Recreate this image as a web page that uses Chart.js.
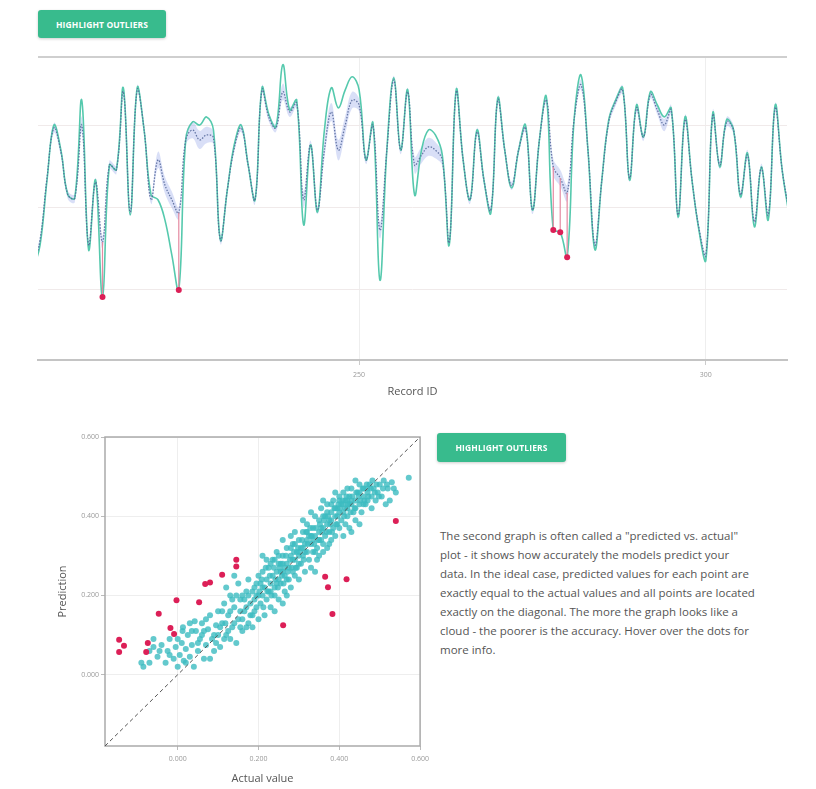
<!DOCTYPE html>
<html>
<head>
<meta charset="utf-8">
<script src="https://cdn.jsdelivr.net/npm/chart.js@4.4.1/dist/chart.umd.min.js"></script>
<style>
body { margin: 0; background: #fff; font-family: "Open Sans", sans-serif; width: 816px; height: 789px; position: relative; overflow: hidden; }
.btn { position: absolute; background: #38bb8d; color: #fff; font-size: 8.5px; font-weight: 700; letter-spacing: .1px; border-radius: 3px; box-shadow: 0 1px 3px rgba(0,0,0,.2); display: flex; align-items: center; justify-content: center; }
#btn1 { left: 38px; top: 10px; width: 128px; height: 28px; }
#btn2 { left: 437px; top: 433px; width: 129px; height: 29px; }
#topWrap { position: absolute; left: 0; top: 45px; width: 816px; height: 357px; }
#scWrap { position: absolute; left: 40px; top: 425px; width: 394px; height: 364px; }
#desc { position: absolute; left: 440px; top: 526px; font-size: 11.5px; line-height: 19px; color: #555; white-space: nowrap; }
</style>
</head>
<body>
<div class="btn" id="btn1">HIGHLIGHT OUTLIERS</div>
<div id="topWrap"><canvas id="records-chart"></canvas></div>
<div id="scWrap"><canvas id="scatter-chart"></canvas></div>
<div class="btn" id="btn2">HIGHLIGHT OUTLIERS</div>
<div id="desc">
The second graph is often called a "predicted vs. actual"<br>
plot - it shows how accurately the models predict your<br>
data. In the ideal case, predicted values for each point are<br>
exactly equal to the actual values and all points are located<br>
exactly on the diagonal. The more the graph looks like a<br>
cloud - the poorer is the accuracy. Hover over the dots for<br>
more info.
</div>
<script>
// dados do primeiro gráfico (por registro)
const recordIds = [
	203, 204, 205, 206, 207, 208, 209, 210, 211, 212,
	213, 214, 215, 216, 217, 218, 219, 220, 221, 222,
	223, 224, 225, 226, 227, 228, 229, 230, 231, 232,
	233, 234, 235, 236, 237, 238, 239, 240, 241, 242,
	243, 244, 245, 246, 247, 248, 249, 250, 251, 252,
	253, 254, 255, 256, 257, 258, 259, 260, 261, 262,
	263, 264, 265, 266, 267, 268, 269, 270, 271, 272,
	273, 274, 275, 276, 277, 278, 279, 280, 281, 282,
	283, 284, 285, 286, 287, 288, 289, 290, 291, 292,
	293, 294, 295, 296, 297, 298, 299, 300, 301, 302,
	303, 304, 305, 306, 307, 308, 309, 310, 311, 312
];

const actualValues = [
	0.049, 0.110, 0.268, 0.402, 0.341, 0.232, 0.224, 0.463, 0.098, 0.268,
	-0.017, 0.305, 0.293, 0.493, 0.183, 0.493, 0.390, 0.232, 0.220, 0.171,
	0.085, 0.000, 0.366, 0.410, 0.402, 0.422, 0.390, 0.122, 0.244, 0.354,
	0.402, 0.305, 0.220, 0.493, 0.427, 0.398, 0.549, 0.439, 0.463, 0.159,
	0.354, 0.190, 0.390, 0.493, 0.444, 0.488, 0.520, 0.488, 0.317, 0.407,
	0.024, 0.341, 0.517, 0.341, 0.488, 0.232, 0.341, 0.390, 0.378, 0.329,
	0.110, 0.488, 0.317, 0.220, 0.390, 0.268, 0.188, 0.468, 0.341, 0.249,
	0.341, 0.402, 0.195, 0.366, 0.471, 0.146, 0.141, 0.080, 0.415, 0.524,
	0.341, 0.098, 0.268, 0.415, 0.463, 0.493, 0.268, 0.451, 0.373, 0.483,
	0.451, 0.422, 0.444, 0.178, 0.422, 0.268, 0.146, 0.073, 0.432, 0.300,
	0.415, 0.390, 0.227, 0.334, 0.154, 0.300, 0.171, 0.451, 0.293, 0.183
];

const predictedValues = [
	0.054, 0.122, 0.273, 0.395, 0.337, 0.232, 0.224, 0.402, 0.110, 0.263,
	0.117, 0.305, 0.293, 0.483, 0.190, 0.488, 0.390, 0.220, 0.317, 0.256,
	0.220, 0.188, 0.366, 0.390, 0.366, 0.378, 0.371, 0.122, 0.244, 0.346,
	0.395, 0.305, 0.220, 0.488, 0.420, 0.395, 0.483, 0.434, 0.456, 0.220,
	0.354, 0.195, 0.341, 0.434, 0.341, 0.402, 0.463, 0.451, 0.317, 0.402,
	0.146, 0.341, 0.512, 0.341, 0.483, 0.305, 0.329, 0.349, 0.341, 0.317,
	0.117, 0.483, 0.317, 0.220, 0.385, 0.268, 0.195, 0.463, 0.341, 0.254,
	0.341, 0.395, 0.195, 0.366, 0.463, 0.300, 0.273, 0.237, 0.415, 0.500,
	0.341, 0.110, 0.268, 0.410, 0.459, 0.488, 0.273, 0.444, 0.373, 0.476,
	0.439, 0.402, 0.439, 0.183, 0.415, 0.268, 0.151, 0.085, 0.427, 0.305,
	0.410, 0.390, 0.232, 0.329, 0.166, 0.298, 0.183, 0.444, 0.293, 0.190
];

const predictedError = [
	0.010, 0.010, 0.010, 0.012, 0.010, 0.010, 0.010, 0.020, 0.010, 0.010,
	0.015, 0.010, 0.010, 0.012, 0.010, 0.010, 0.010, 0.010, 0.020, 0.020,
	0.020, 0.015, 0.012, 0.020, 0.022, 0.020, 0.015, 0.010, 0.010, 0.010,
	0.010, 0.010, 0.010, 0.010, 0.010, 0.010, 0.020, 0.012, 0.010, 0.020,
	0.010, 0.010, 0.020, 0.022, 0.025, 0.022, 0.020, 0.015, 0.010, 0.010,
	0.020, 0.010, 0.010, 0.010, 0.010, 0.020, 0.020, 0.022, 0.020, 0.015,
	0.010, 0.010, 0.010, 0.010, 0.010, 0.010, 0.010, 0.010, 0.010, 0.010,
	0.010, 0.010, 0.010, 0.010, 0.010, 0.020, 0.020, 0.020, 0.010, 0.012,
	0.010, 0.010, 0.010, 0.010, 0.010, 0.010, 0.010, 0.012, 0.010, 0.010,
	0.012, 0.015, 0.012, 0.010, 0.012, 0.010, 0.010, 0.010, 0.012, 0.010,
	0.012, 0.010, 0.010, 0.012, 0.010, 0.010, 0.010, 0.012, 0.010, 0.010
];

const outlierIds = [213, 224, 278, 279, 280];
const recordTicks = [250, 300];
const recordGrid = [0, 0.2, 0.4];

// dados do gráfico "predicted vs. actual": [actual, prediction]
const cloudPoints = [
	[-0.09, 0.03], [-0.085, 0.02], [-0.07, 0.06], [-0.06, 0.07], [-0.05, 0.045], [-0.04, 0.075],
	[-0.03, 0.03], [-0.025, 0.06], [-0.02, 0.09], [-0.01, 0.04], [-0.005, 0.07], [-0.06, 0.09],
	[-0.07, 0.03], [-0.045, 0.06], [-0.02, 0.05], [0.0, 0.09], [0.02, 0.03], [0.035, 0.11],
	[0.05, 0.08], [0.065, 0.11], [0.07, 0.14], [0.09, 0.1], [0.095, 0.08], [0.042, 0.135], [0.013, 0.12],
	[0.0, 0.02], [0.005, 0.05], [0.01, 0.08], [0.015, 0.035], [0.02, 0.065], [0.025, 0.1],
	[0.03, 0.045], [0.035, 0.075], [0.04, 0.02], [0.045, 0.11], [0.05, 0.06], [0.055, 0.09],
	[0.06, 0.13], [0.065, 0.04], [0.07, 0.075], [0.075, 0.115], [0.08, 0.15], [0.085, 0.09],
	[0.09, 0.06], [0.095, 0.125], [0.1, 0.1], [0.1, 0.16], [0.012, 0.11], [0.03, 0.13],
	[0.06, 0.1], [0.08, 0.04],
	[0.105, 0.07], [0.11, 0.13], [0.115, 0.18], [0.12, 0.1], [0.125, 0.15], [0.13, 0.2],
	[0.135, 0.12], [0.14, 0.17], [0.145, 0.08], [0.15, 0.14], [0.155, 0.19], [0.16, 0.11],
	[0.165, 0.16], [0.17, 0.21], [0.175, 0.13], [0.18, 0.18], [0.185, 0.15], [0.19, 0.22],
	[0.195, 0.17], [0.2, 0.2], [0.11, 0.16], [0.13, 0.09], [0.15, 0.23], [0.16, 0.2],
	[0.175, 0.24], [0.185, 0.12], [0.19, 0.19], [0.2, 0.14], [0.2, 0.25], [0.12, 0.22], [0.14, 0.25],
	[0.105, 0.12], [0.115, 0.09], [0.125, 0.11], [0.13, 0.16], [0.14, 0.13], [0.145, 0.2],
	[0.155, 0.16], [0.16, 0.14], [0.165, 0.19], [0.17, 0.17], [0.175, 0.2], [0.18, 0.15],
	[0.185, 0.21], [0.19, 0.16], [0.195, 0.2], [0.17, 0.12], [0.155, 0.12], [0.135, 0.19],
	[0.118, 0.13], [0.195, 0.23],
	[0.205, 0.18], [0.205, 0.23], [0.21, 0.2], [0.21, 0.26], [0.215, 0.15], [0.215, 0.22],
	[0.22, 0.24], [0.22, 0.19], [0.225, 0.27], [0.225, 0.21], [0.23, 0.17], [0.23, 0.23],
	[0.235, 0.25], [0.235, 0.29], [0.24, 0.2], [0.24, 0.22], [0.245, 0.26], [0.245, 0.31],
	[0.25, 0.24], [0.25, 0.19], [0.255, 0.28], [0.255, 0.23], [0.26, 0.26], [0.26, 0.3],
	[0.265, 0.21], [0.265, 0.25], [0.27, 0.28], [0.27, 0.32], [0.275, 0.24], [0.275, 0.27],
	[0.28, 0.3], [0.28, 0.22], [0.285, 0.26], [0.285, 0.33], [0.29, 0.29], [0.29, 0.25],
	[0.295, 0.31], [0.295, 0.27], [0.3, 0.3], [0.3, 0.34], [0.3, 0.24], [0.22, 0.29],
	[0.24, 0.16], [0.26, 0.34], [0.28, 0.35], [0.25, 0.28], [0.27, 0.2], [0.29, 0.36],
	[0.23, 0.28], [0.21, 0.3], [0.26, 0.18],
	[0.202, 0.21], [0.208, 0.24], [0.212, 0.17], [0.218, 0.27], [0.222, 0.21], [0.228, 0.25],
	[0.232, 0.2], [0.238, 0.27], [0.242, 0.24], [0.248, 0.22], [0.252, 0.27], [0.258, 0.25],
	[0.262, 0.23], [0.268, 0.3], [0.272, 0.26], [0.278, 0.29], [0.282, 0.27], [0.288, 0.31],
	[0.292, 0.27], [0.298, 0.32], [0.24, 0.29], [0.26, 0.28], [0.28, 0.32], [0.25, 0.3],
	[0.27, 0.24], [0.23, 0.21], [0.21, 0.22], [0.29, 0.33], [0.3, 0.28], [0.285, 0.29],
	[0.265, 0.27], [0.255, 0.26], [0.245, 0.23],
	[0.305, 0.28], [0.305, 0.32], [0.31, 0.3], [0.31, 0.36], [0.315, 0.26], [0.315, 0.33],
	[0.32, 0.31], [0.32, 0.38], [0.325, 0.29], [0.325, 0.35], [0.33, 0.33], [0.33, 0.27],
	[0.335, 0.37], [0.335, 0.31], [0.34, 0.35], [0.34, 0.4], [0.345, 0.32], [0.345, 0.29],
	[0.35, 0.36], [0.35, 0.39], [0.355, 0.34], [0.355, 0.42], [0.36, 0.37], [0.36, 0.31],
	[0.365, 0.4], [0.365, 0.35], [0.37, 0.38], [0.37, 0.43], [0.375, 0.36], [0.375, 0.33],
	[0.38, 0.39], [0.38, 0.41], [0.385, 0.37], [0.385, 0.44], [0.39, 0.4], [0.39, 0.35],
	[0.395, 0.42], [0.395, 0.38], [0.4, 0.41], [0.4, 0.37], [0.4, 0.45], [0.31, 0.39],
	[0.33, 0.41], [0.35, 0.3], [0.37, 0.32], [0.39, 0.46], [0.36, 0.44], [0.34, 0.26],
	[0.32, 0.34], [0.38, 0.34],
	[0.302, 0.31], [0.308, 0.34], [0.312, 0.29], [0.318, 0.36], [0.322, 0.33], [0.328, 0.37],
	[0.332, 0.35], [0.338, 0.33], [0.342, 0.37], [0.348, 0.34], [0.352, 0.38], [0.358, 0.36],
	[0.362, 0.39], [0.368, 0.36], [0.372, 0.4], [0.378, 0.38], [0.382, 0.36], [0.388, 0.42],
	[0.392, 0.38], [0.398, 0.43], [0.31, 0.32], [0.33, 0.35], [0.35, 0.34], [0.37, 0.41],
	[0.39, 0.42], [0.34, 0.31], [0.36, 0.33], [0.38, 0.43], [0.32, 0.36], [0.36, 0.4],
	[0.395, 0.4], [0.375, 0.39], [0.355, 0.37], [0.335, 0.34], [0.315, 0.31],
	[0.405, 0.39], [0.405, 0.43], [0.41, 0.41], [0.41, 0.46], [0.415, 0.38], [0.415, 0.44],
	[0.42, 0.42], [0.42, 0.4], [0.425, 0.45], [0.425, 0.37], [0.43, 0.43], [0.43, 0.47],
	[0.435, 0.41], [0.44, 0.44], [0.44, 0.39], [0.445, 0.46], [0.45, 0.43], [0.45, 0.48],
	[0.455, 0.41], [0.46, 0.45], [0.46, 0.47], [0.465, 0.43], [0.47, 0.46], [0.47, 0.44],
	[0.475, 0.48], [0.48, 0.45], [0.485, 0.47], [0.49, 0.44], [0.495, 0.46], [0.5, 0.48],
	[0.43, 0.36], [0.45, 0.38], [0.48, 0.42], [0.44, 0.49], [0.41, 0.35], [0.42, 0.47],
	[0.402, 0.42], [0.408, 0.44], [0.412, 0.4], [0.418, 0.45], [0.422, 0.43], [0.428, 0.41],
	[0.432, 0.45], [0.438, 0.42], [0.442, 0.46], [0.448, 0.45], [0.452, 0.44], [0.458, 0.47],
	[0.462, 0.44], [0.468, 0.48], [0.472, 0.45], [0.478, 0.47], [0.482, 0.49], [0.488, 0.46],
	[0.492, 0.48], [0.498, 0.45], [0.41, 0.43], [0.43, 0.44], [0.45, 0.46], [0.47, 0.47],
	[0.44, 0.42], [0.42, 0.44], [0.46, 0.43], [0.40, 0.44], [0.415, 0.42], [0.425, 0.43],
	[0.505, 0.45], [0.51, 0.49], [0.52, 0.47], [0.53, 0.486], [0.525, 0.44], [0.572, 0.497], [0.515, 0.43],
	[0.508, 0.47], [0.518, 0.48], [0.535, 0.47], [0.54, 0.46]
];

const outlierPoints = [
	[-0.145, 0.088], [-0.133, 0.073], [-0.145, 0.057], [-0.078, 0.057], [-0.074, 0.080],
	[-0.047, 0.154], [-0.018, 0.118], [-0.009, 0.103], [-0.003, 0.188], [0.053, 0.183],
	[0.068, 0.229], [0.080, 0.233], [0.110, 0.252], [0.145, 0.290], [0.145, 0.273],
	[0.261, 0.125], [0.365, 0.247], [0.372, 0.221], [0.383, 0.153], [0.418, 0.241], [0.540, 0.388]
];

const axisRange = [-0.18, 0.6];
const scatterTicks = [0, 0.2, 0.4, 0.6];

// linhas de moldura (topo / caixa)
const frameLines = {
	id: "frameLines",
	beforeDatasetsDraw(chart, args, opts) {
		const a = chart.chartArea;
		const c = chart.ctx;
		c.save();
		c.strokeStyle = opts.color;
		c.lineWidth = opts.width;
		if (opts.box) {
			c.strokeRect(a.left, a.top, a.right - a.left, a.bottom - a.top);
		} else {
			c.beginPath();
			c.moveTo(a.left, a.top);
			c.lineTo(a.right, a.top);
			c.stroke();
		}
		c.restore();
	}
};

const tickFont = { family: "Open Sans", size: 7 };
const titleFont = { family: "Open Sans", size: 11 };

const pts = arr => recordIds.map((id, i) => ({ x: id, y: arr[i] }));
const upper = recordIds.map((id, i) => ({ x: id, y: predictedValues[i] + predictedError[i] }));
const lower = recordIds.map((id, i) => ({ x: id, y: predictedValues[i] - predictedError[i] }));

const segments = [];
const outlierDots = [];
outlierIds.forEach(id => {
	const i = recordIds.indexOf(id);
	segments.push({ x: id, y: predictedValues[i] }, { x: id, y: actualValues[i] }, { x: id, y: null });
	outlierDots.push({ x: id, y: actualValues[i] });
});

new Chart(document.getElementById("records-chart"), {
	type: "line",
	data: {
		datasets: [
			{ data: upper, borderWidth: 0, pointRadius: 0, fill: "+1", backgroundColor: "rgba(130,150,230,0.3)", tension: 0.4, order: 5 },
			{ data: lower, borderWidth: 0, pointRadius: 0, fill: false, tension: 0.4, order: 6 },
			{ data: pts(actualValues), borderColor: "#55c9ad", borderWidth: 1.6, pointRadius: 0, tension: 0.4, order: 3 },
			{ data: pts(predictedValues), borderColor: "rgba(80,100,150,0.85)", borderWidth: 1.3, borderDash: [1.5, 1.5], pointRadius: 0, tension: 0.4, order: 2 },
			{ data: segments, borderColor: "#e58aa2", borderWidth: 1.2, pointRadius: 0, spanGaps: false, tension: 0, order: 1 },
			{ type: "scatter", data: outlierDots, backgroundColor: "#dc1f57", borderWidth: 0, pointRadius: 3, order: 0 }
		]
	},
	options: {
		responsive: true,
		maintainAspectRatio: false,
		animation: false,
		layout: { padding: { top: 12, right: 29, left: 0, bottom: 0 } },
		plugins: {
			legend: { display: false },
			tooltip: { enabled: false },
			frameLines: { color: "#cfcfcf", width: 2, box: false }
		},
		scales: {
			x: {
				type: "linear",
				min: 203.7,
				max: 311.7,
				afterBuildTicks: axis => { axis.ticks = recordTicks.map(v => ({ value: v })); },
				afterFit: axis => { axis.height = 42; },
				ticks: { font: tickFont, color: "#999", padding: 6 },
				grid: { color: "#eeeeee", tickLength: 5, tickColor: "#ccc" },
				border: { color: "#c4c4c4", width: 2 },
				title: { display: true, text: "Record ID", font: titleFont, color: "#555", padding: { top: 3 } }
			},
			y: {
				min: -0.1707,
				max: 0.568,
				afterBuildTicks: axis => { axis.ticks = recordGrid.map(v => ({ value: v })); },
				afterFit: axis => { axis.width = 38; },
				ticks: { display: false },
				grid: { color: "#f0eaea", drawTicks: false },
				border: { display: false }
			}
		}
	},
	plugins: [frameLines]
});

new Chart(document.getElementById("scatter-chart"), {
	type: "scatter",
	data: {
		datasets: [
			{ type: "line", data: [{ x: axisRange[0], y: axisRange[0] }, { x: axisRange[1], y: axisRange[1] }], borderColor: "#555", borderWidth: 1, borderDash: [4, 3], pointRadius: 0, order: 0 },
			{ data: outlierPoints.map(p => ({ x: p[0], y: p[1] })), backgroundColor: "#dc1f57", borderWidth: 0, pointRadius: 3, order: 1 },
			{ data: cloudPoints.map(p => ({ x: p[0], y: p[1] })), backgroundColor: "rgba(60,188,192,0.8)", borderWidth: 0, pointRadius: 3, order: 2 }
		]
	},
	options: {
		responsive: true,
		maintainAspectRatio: false,
		animation: false,
		layout: { padding: { top: 12, right: 7, left: 0, bottom: 0 } },
		plugins: {
			legend: { display: false },
			tooltip: { enabled: false },
			frameLines: { color: "#aaaaaa", width: 1.5, box: true }
		},
		scales: {
			x: {
				type: "linear",
				min: axisRange[0],
				max: axisRange[1],
				afterBuildTicks: axis => { axis.ticks = scatterTicks.map(v => ({ value: v })); },
				afterFit: axis => { axis.height = 43; },
				ticks: { font: tickFont, color: "#999", padding: 5, callback: v => v.toFixed(3) },
				grid: { color: "#eeeeee", tickLength: 4, tickColor: "#bbb" },
				border: { display: false },
				title: { display: true, text: "Actual value", font: titleFont, color: "#555", padding: { top: 2, bottom: 4 } }
			},
			y: {
				min: axisRange[0],
				max: axisRange[1],
				afterBuildTicks: axis => { axis.ticks = scatterTicks.map(v => ({ value: v })); },
				afterFit: axis => { axis.width = 65; },
				ticks: { font: tickFont, color: "#999", padding: 2, callback: v => v.toFixed(3) },
				grid: { color: "#eeeeee", tickLength: 4, tickColor: "#bbb" },
				border: { display: false },
				title: { display: true, text: "Prediction", font: titleFont, color: "#555", padding: { top: 16, bottom: 0 } }
			}
		}
	},
	plugins: [frameLines]
});
</script>
</body>
</html>
